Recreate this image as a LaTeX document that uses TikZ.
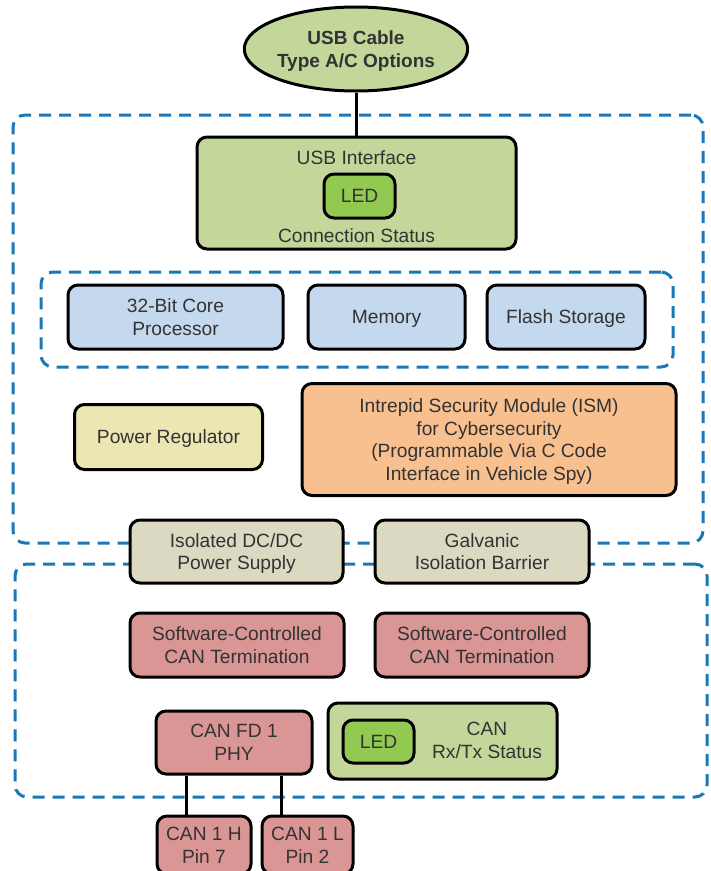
\documentclass[tikz,border=0pt]{standalone}
\usepackage{fontspec}
\setmainfont{Liberation Sans}
\usetikzlibrary{shapes.geometric}

\definecolor{txtgray}{HTML}{333333}
\definecolor{grpblue}{HTML}{1A78B4}
\definecolor{usbgreen}{HTML}{C4D79B}
\definecolor{ledgreen}{HTML}{92C950}
\definecolor{coreblue}{HTML}{C5D9EE}
\definecolor{pwryellow}{HTML}{EBE6B2}
\definecolor{ismorange}{HTML}{F9C08F}
\definecolor{isotan}{HTML}{DCD9C3}
\definecolor{canred}{HTML}{DA9694}

\begin{document}
\begin{tikzpicture}[x=1pt, y=-1pt,
  every node/.style={text=txtgray, font=\fontsize{19.2}{22.6}\selectfont, align=center, inner sep=0pt, text depth=0pt},
  blockbox/.style={draw=black, line width=3pt, rounded corners=10pt},
  ledbox/.style={blockbox, fill=ledgreen, minimum width=71pt, minimum height=44pt},
  groupbox/.style={draw=grpblue, line width=3pt, dash pattern=on 12pt off 8pt, rounded corners=12pt}
]

  % page frame
  \clip (0,0) rectangle (711,871);
  \fill[white] (0,0) rectangle (711,871);

  % Dashed groups
  \node[groupbox, minimum width=690pt, minimum height=428pt] (upper) at (358,329) {};
  \node[groupbox, minimum width=632pt, minimum height=95pt] (core) at (357,319.5) {};
  \node[groupbox, minimum width=692pt, minimum height=233pt] (lower) at (361,680.5) {};

  % USB cable
  \node[ellipse, draw=black, line width=3pt, fill=usbgreen, font=\fontsize{19}{23.5}\selectfont\bfseries,
        minimum width=212pt, minimum height=84pt] (cable) at (356,49) {USB Cable\\Type A/C Options};

  % USB interface
  \node[blockbox, fill=usbgreen, minimum width=319pt, minimum height=112pt] (usbif) at (356.5,193) {};
  \node (usbtitle) at (356.5,158) {USB Interface};
  \node[ledbox] (usbled) at (359.5,196) {LED};
  \node (usbstatus) at (356.5,236) {Connection Status};

  % Core row
  \node[blockbox, fill=coreblue, minimum width=215pt, minimum height=64pt] (cpu) at (175.5,317) {32-Bit Core\\Processor};
  \node[blockbox, fill=coreblue, minimum width=157pt, minimum height=64pt] (memory) at (386.5,317) {Memory};
  \node[blockbox, fill=coreblue, minimum width=158pt, minimum height=64pt] (flash) at (566,317) {Flash Storage};

  % Power and security
  \node[blockbox, fill=pwryellow, minimum width=188pt, minimum height=65pt] (power) at (168.5,437) {Power Regulator};
  \node[blockbox, fill=ismorange, minimum width=374pt, minimum height=112pt] (ism) at (489,439.5)
    {Intrepid Security Module (ISM)\\for Cybersecurity\\(Programmable Via C Code\\Interface in Vehicle Spy)};

  % Isolation
  \node[blockbox, fill=isotan, minimum width=213pt, minimum height=63pt] (isodc) at (236.5,551.5) {Isolated DC/DC\\Power Supply};
  \node[blockbox, fill=isotan, minimum width=214pt, minimum height=63pt] (galv) at (482,551.5) {Galvanic\\Isolation Barrier};

  % CAN side
  \node[blockbox, fill=canred, minimum width=214pt, minimum height=64pt] (termA) at (237,645) {Software-Controlled\\CAN Termination};
  \node[blockbox, fill=canred, minimum width=214pt, minimum height=64pt] (termB) at (482,645) {Software-Controlled\\CAN Termination};
  \node[blockbox, fill=canred, minimum width=156pt, minimum height=63pt] (phy) at (234,742.5) {CAN FD 1\\PHY};
  \node[blockbox, fill=usbgreen, minimum width=229pt, minimum height=76pt] (canstat) at (442.5,741) {};
  \node[ledbox, minimum height=43pt] (canled) at (378.5,741.5) {LED};
  \node (cantext) at (487,740.5) {CAN\\Rx/Tx Status};

  % Pins
  \node[blockbox, fill=canred, minimum width=94pt, minimum height=58pt] (pinH) at (204,845) {CAN 1 H\\Pin 7};
  \node[blockbox, fill=canred, minimum width=91pt, minimum height=58pt] (pinL) at (307.5,845) {CAN 1 L\\Pin 2};

  % Connectors
  \draw[line width=3pt] (cable.south) -- (cable.south |- usbif.north);
  \draw[line width=3pt] ([xshift=-48pt]phy.south) -- ([xshift=-48pt]phy.south |- pinH.north);
  \draw[line width=3pt] ([xshift=47pt]phy.south) -- ([xshift=47pt]phy.south |- pinL.north);

\end{tikzpicture}
\end{document}
